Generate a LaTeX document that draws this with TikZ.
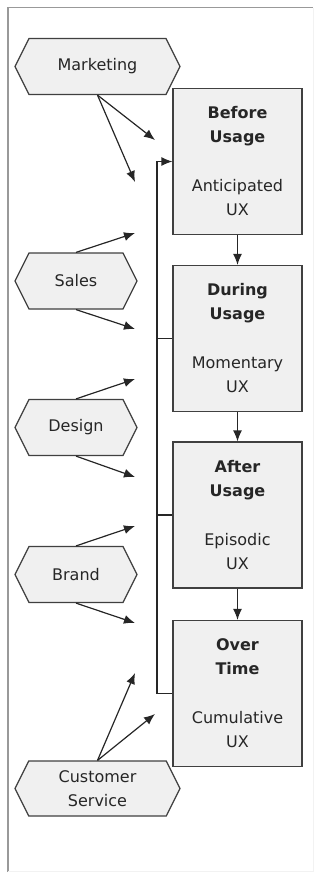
\documentclass[tikz,border=0pt]{standalone}
\usepackage{fontspec}
\setmainfont{DejaVu Sans}
\usetikzlibrary{shapes.symbols,arrows.meta}

\begin{document}
\begin{tikzpicture}[x=1pt, y=-1pt,
	stage/.style={draw=black!75, fill=black!6, line width=1.2pt, minimum width=129pt, minimum height=146pt,
		inner sep=0pt, align=center, text width=125pt, text=black!85, font=\fontsize{16}{24}\selectfont},
	source/.style={signal, signal to=west and east, signal pointer angle=127, draw=black!75, fill=black!6,
		line width=1.2pt, minimum height=56pt, inner sep=0pt, align=center, text=black!85,
		font=\fontsize{16}{24}\selectfont},
	arr/.style={-{Latex[length=11pt,width=9pt]}, line width=1.2pt, draw=black!85},
	bus/.style={line width=1.2pt, draw=black!85}]

	\useasboundingbox (0,0) rectangle (320,873);
	\draw[black!40, line width=1.5pt] (8,872) -- (8,7.5) -- (313,7.5);
	\draw[black!5] (313,7.5) -- (313,871) -- (8,871);

	% sources
	\node[source, minimum width=165pt] (marketing) at (97.5,66.5) {Marketing};
	\node[source, minimum width=122pt] (sales) at (76,281) {Sales};
	\node[source, minimum width=122pt] (design) at (76,427.5) {Design};
	\node[source, minimum width=122pt] (brand) at (76,574.5) {Brand};
	\node[source, minimum width=165pt, minimum height=55pt] (service) at (97.5,788.5) {Customer\\Service};

	% stages
	\node[stage] (before) at (237.5,161.5) {\textbf{Before}\\\textbf{Usage}\\[25pt]Anticipated\\UX};
	\node[stage] (during) at (237.5,338.5) {\textbf{During}\\\textbf{Usage}\\[25pt]Momentary\\UX};
	\node[stage] (after) at (237.5,515) {\textbf{After}\\\textbf{Usage}\\[25pt]Episodic\\UX};
	\node[stage] (over) at (237.5,693.5) {\textbf{Over}\\\textbf{Time}\\[25pt]Cumulative\\UX};

	\draw[arr] (before) -- (during);
	\draw[arr] (during) -- (after);
	\draw[arr] (after) -- (over);

	% loop back to before usage
	\coordinate (bus) at (157,0);
	\draw[arr] (over.west) -- (over.west -| bus) -- (before.west -| bus) -- (before.west);
	\draw[bus] (during.west -| bus) -- (during.west);
	\draw[bus] (after.west -| bus) -- (after.west);

	% loose ends
	\coordinate (m1) at (155,140);
	\coordinate (m2) at (135,182);
	\coordinate (s1) at (135,233);
	\coordinate (s2) at (135,329);
	\coordinate (d1) at (135,379);
	\coordinate (d2) at (135,477);
	\coordinate (b1) at (135,526);
	\coordinate (b2) at (135,623);
	\coordinate (c1) at (135,673);
	\coordinate (c2) at (155,714);

	\draw[arr] (marketing.south) -- (m1);
	\draw[arr] (marketing.south) -- (m2);
	\draw[arr] (sales.north) -- (s1);
	\draw[arr] (sales.south) -- (s2);
	\draw[arr] (design.north) -- (d1);
	\draw[arr] (design.south) -- (d2);
	\draw[arr] (brand.north) -- (b1);
	\draw[arr] (brand.south) -- (b2);
	\draw[arr] (service.north) -- (c1);
	\draw[arr] (service.north) -- (c2);

\end{tikzpicture}
\end{document}
